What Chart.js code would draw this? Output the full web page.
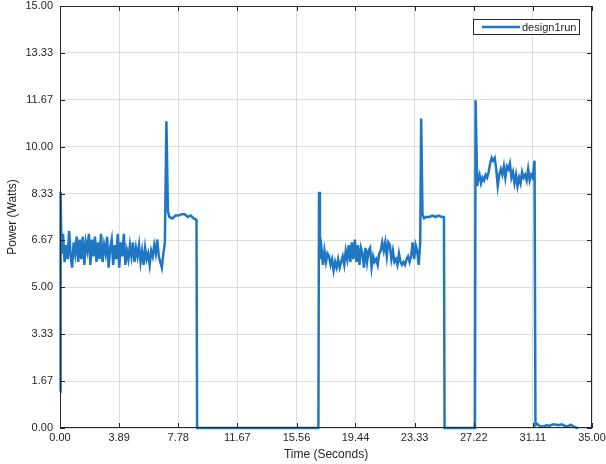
<!DOCTYPE html>
<html>
<head>
<meta charset="utf-8">
<script src="https://cdn.jsdelivr.net/npm/chart.js@4.4.0/dist/chart.umd.min.js"></script>
<style>
  html, body { margin: 0; padding: 0; background: #fff; }
  #wrap { width: 606px; height: 464px; position: relative; }
</style>
</head>
<body>
<div id="wrap"><canvas id="powerChart"></canvas></div>
<script>
// tick labels
const xTickLabels = ['0.00', '3.89', '7.78', '11.67', '15.56', '19.44', '23.33', '27.22', '31.11', '35.00'];
const yTickLabels = ['0.00', '1.67', '3.33', '5.00', '6.67', '8.33', '10.00', '11.67', '13.33', '15.00'];

// first run: start-up, noisy load, spike, plateau, off
const run1Time = [0.00, 0.04, 0.1, 0.2, 0.3, 0.4, 0.5, 0.6, 0.7, 0.8, 0.9, 1.0, 1.1, 1.2, 1.3, 1.4, 1.5, 1.6, 1.7, 1.8, 1.9,
    2.0, 2.1, 2.2, 2.3, 2.4, 2.5, 2.6, 2.7, 2.8, 2.9, 3.0, 3.1, 3.2, 3.3, 3.4, 3.5, 3.6, 3.7, 3.8, 3.9,
    4.0, 4.1, 4.2, 4.3, 4.4, 4.5, 4.6, 4.7, 4.8, 4.9, 5.0, 5.1, 5.2, 5.3, 5.4, 5.5, 5.6, 5.7, 5.8, 5.9,
    6.0, 6.1, 6.2, 6.3, 6.4, 6.5, 6.6, 6.7, 6.8, 6.9, 7.0, 7.1, 7.2, 7.4, 7.6, 7.8, 8.0, 8.2, 8.4, 8.6, 8.8, 8.98, 9.02];
const run1Power = [1.3, 8.4, 6.2, 6.9, 5.9, 6.5, 6.0, 7.0, 6.1, 5.7, 6.6, 6.2, 6.8, 5.9, 6.7, 6.0, 6.8, 5.8, 6.6, 6.3, 6.9,
    5.8, 6.7, 6.1, 6.8, 5.9, 6.6, 6.0, 6.9, 5.9, 6.5, 6.2, 6.8, 5.7, 6.4, 6.7, 5.8, 6.5, 6.0, 6.9, 5.7,
    6.6, 6.1, 6.9, 5.8, 6.3, 6.0, 6.5, 6.1, 6.6, 5.9, 6.4, 6.1, 6.5, 5.9, 6.3, 5.8, 6.4, 6.0, 6.2, 5.8,
    6.3, 6.1, 6.5, 6.2, 6.7, 6.1, 5.9, 5.7, 6.2, 6.6, 10.9, 7.7, 7.5, 7.45, 7.55, 7.55, 7.6, 7.6, 7.5, 7.55, 7.45, 7.4, 0.0];

// second run
const run2Time = [17.0, 17.04, 17.1, 17.2, 17.3, 17.4, 17.5, 17.6, 17.7, 17.8, 17.9, 18.0, 18.1, 18.2, 18.3, 18.4, 18.5, 18.6, 18.7, 18.8, 18.9,
    19.0, 19.1, 19.2, 19.3, 19.4, 19.5, 19.6, 19.7, 19.8, 19.9, 20.0, 20.1, 20.2, 20.3, 20.4, 20.5, 20.6, 20.7, 20.8, 20.9,
    21.0, 21.1, 21.2, 21.3, 21.4, 21.5, 21.6, 21.7, 21.8, 21.9, 22.0, 22.1, 22.2, 22.3, 22.4, 22.5, 22.6, 22.7, 22.8, 22.9,
    23.0, 23.1, 23.2, 23.3, 23.4, 23.5, 23.6, 23.7, 23.76, 23.85, 23.95, 24.1, 24.3, 24.5, 24.7, 24.9, 25.1, 25.26, 25.3];
const run2Power = [0.0, 8.4, 6.0, 6.4, 5.8, 6.3, 5.9, 6.2, 6.1, 5.8, 6.0, 5.6, 5.9, 5.7, 6.0, 5.7, 5.9, 6.1, 5.8, 6.3, 6.0,
    6.5, 5.9, 6.6, 6.0, 6.7, 5.9, 6.5, 5.8, 6.4, 6.2, 5.7, 6.4, 5.9, 6.3, 6.4, 5.7, 6.1, 5.9, 6.0, 5.8,
    6.2, 6.3, 6.6, 6.3, 6.6, 6.1, 6.6, 6.5, 6.0, 6.3, 5.9, 6.0, 5.8, 6.2, 5.9, 5.8, 5.9, 5.8, 6.0, 6.1,
    5.9, 6.1, 6.6, 6.0, 6.5, 6.3, 5.8, 6.6, 11.0, 7.6, 7.45, 7.5, 7.5, 7.55, 7.5, 7.55, 7.5, 7.5, 0.0];

// third run and the idle tail
const run3Time = [27.3, 27.34, 27.45, 27.5, 27.6, 27.7, 27.8, 27.9, 28.0, 28.1, 28.2, 28.3, 28.4, 28.5, 28.6, 28.7, 28.8, 28.9,
    29.0, 29.1, 29.2, 29.3, 29.4, 29.5, 29.6, 29.7, 29.8, 29.9, 30.0, 30.1, 30.2, 30.3, 30.4, 30.5, 30.6, 30.7, 30.8, 30.9,
    31.0, 31.1, 31.22, 31.28, 31.4, 31.6, 31.8, 32.0, 32.2, 32.4, 32.6, 32.8, 33.0, 33.2, 33.4, 33.6, 33.8, 34.0, 34.1];
const run3Power = [0.0, 11.65, 8.6, 8.8, 9.0, 8.7, 8.9, 8.8, 9.0, 8.9, 9.1, 9.4, 9.6, 9.5, 9.6, 9.2, 8.6, 9.0,
    9.2, 9.0, 9.3, 8.9, 9.3, 9.2, 9.4, 8.9, 9.1, 8.7, 9.0, 8.6, 8.9, 8.7, 9.1, 8.9, 9.0, 8.8, 9.2, 8.8,
    9.0, 8.9, 9.5, 0.1, 0.15, 0.05, 0.05, 0.1, 0.08, 0.12, 0.12, 0.1, 0.13, 0.08, 0.05, 0.12, 0.05, 0.0, 0.0];

const lineColor = '#1f77c4';
const textColor = '#262626';
const gridColor = 'rgba(0, 0, 0, 0.13)';
const labelFont = { family: 'Liberation Sans, Arial, sans-serif', size: 11 };
const titleFont = { family: 'Liberation Sans, Arial, sans-serif', size: 12 };

const toPoints = (times, values) => times.map((t, i) => ({ x: t, y: values[i] }));
const points = [].concat(
    toPoints(run1Time, run1Power),
    toPoints(run2Time, run2Power),
    toPoints(run3Time, run3Power)
);

// box, inward ticks and a MATLAB style legend
const matlabFrame = {
    id: 'matlabFrame',
    afterDraw(chart) {
        const { ctx, chartArea: a, scales } = chart;
        ctx.save();
        ctx.strokeStyle = textColor;
        ctx.lineWidth = 1;
        ctx.strokeRect(a.left + 0.5, a.top + 0.5, a.right - a.left - 1, a.bottom - a.top - 1);

        ctx.beginPath();
        scales.x.ticks.forEach(t => {
            const px = Math.round(scales.x.getPixelForValue(t.value)) + 0.5;
            ctx.moveTo(px, a.bottom); ctx.lineTo(px, a.bottom - 5);
            ctx.moveTo(px, a.top); ctx.lineTo(px, a.top + 5);
        });
        scales.y.ticks.forEach(t => {
            const py = Math.round(scales.y.getPixelForValue(t.value)) + 0.5;
            ctx.moveTo(a.left, py); ctx.lineTo(a.left + 5, py);
            ctx.moveTo(a.right, py); ctx.lineTo(a.right - 5, py);
        });
        ctx.stroke();

        // legend box in the top right corner
        const label = chart.data.datasets[0].label;
        const boxR = a.right - 13, boxT = a.top + 13, boxW = 106, boxH = 15;
        const boxL = boxR - boxW;
        ctx.fillStyle = '#fff';
        ctx.fillRect(boxL, boxT, boxW, boxH);
        ctx.strokeRect(boxL + 0.5, boxT + 0.5, boxW, boxH);
        ctx.strokeStyle = lineColor;
        ctx.lineWidth = 2.5;
        ctx.beginPath();
        ctx.moveTo(boxL + 9, boxT + boxH / 2 + 0.5);
        ctx.lineTo(boxL + 47, boxT + boxH / 2 + 0.5);
        ctx.stroke();
        ctx.fillStyle = textColor;
        ctx.font = `${labelFont.size}px ${labelFont.family}`;
        ctx.textBaseline = 'middle';
        ctx.textAlign = 'left';
        ctx.fillText(label, boxL + 49, boxT + boxH / 2 + 1);
        ctx.restore();
    }
};

new Chart(document.getElementById('powerChart'), {
    type: 'line',
    data: {
        datasets: [{
            label: 'design1run',
            data: points,
            borderColor: lineColor,
            borderWidth: 2.5,
            pointRadius: 0,
            tension: 0,
            fill: false,
            clip: false
        }]
    },
    options: {
        responsive: true,
        maintainAspectRatio: false,
        animation: false,
        layout: { padding: { top: 6, right: 14, left: 0, bottom: 0 } },
        plugins: {
            legend: { display: false },
            tooltip: { enabled: false }
        },
        scales: {
            x: {
                type: 'linear',
                min: 0,
                max: 35,
                afterBuildTicks: s => { s.ticks = xTickLabels.map(l => ({ value: parseFloat(l) })); },
                afterFit: s => { s.height = 36; s.paddingLeft = 0; s.paddingRight = 0; },
                ticks: {
                    callback: (v, i) => xTickLabels[i],
                    font: labelFont,
                    color: textColor,
                    padding: 3,
                    maxRotation: 0,
                    autoSkip: false
                },
                grid: { color: gridColor, drawTicks: false },
                border: { display: false },
                title: { display: true, text: 'Time (Seconds)', font: titleFont, color: textColor, padding: { top: 0, bottom: 2 } }
            },
            y: {
                type: 'linear',
                min: 0,
                max: 15,
                afterBuildTicks: s => { s.ticks = yTickLabels.map(l => ({ value: parseFloat(l) })); },
                afterFit: s => { s.width = 60; s.paddingTop = 0; s.paddingBottom = 0; },
                ticks: {
                    callback: (v, i) => yTickLabels[i],
                    font: labelFont,
                    color: textColor,
                    padding: 7,
                    autoSkip: false
                },
                grid: { color: gridColor, drawTicks: false },
                border: { display: false },
                title: { display: true, text: 'Power (Watts)', font: titleFont, color: textColor, padding: { top: 5, bottom: 0 } }
            }
        }
    },
    plugins: [matlabFrame]
});
</script>
</body>
</html>
